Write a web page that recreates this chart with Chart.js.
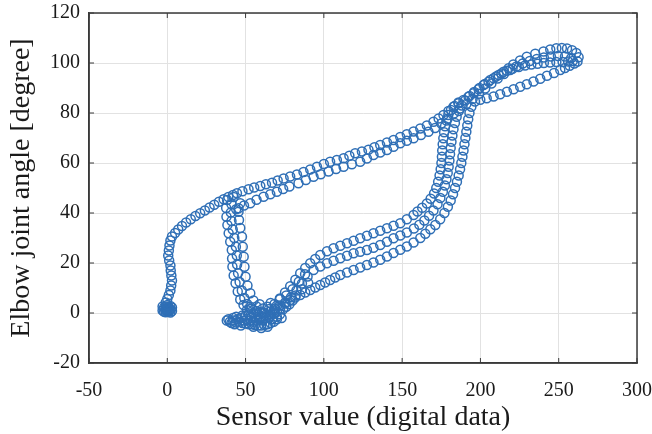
<!DOCTYPE html>
<html>
<head>
<meta charset="utf-8">
<title>Elbow joint angle vs sensor value</title>
<script src="https://cdn.jsdelivr.net/npm/chart.js@4.4.0/dist/chart.umd.min.js"></script>
<style>
  html, body { margin: 0; padding: 0; background: #ffffff; }
  #wrap { width: 652px; height: 434px; }
</style>
</head>
<body>
<div id="wrap"><canvas id="angle-chart" width="652" height="434"></canvas></div>
<script>
// Axis ticks
const xTicks = [-50, 0, 50, 100, 150, 200, 250, 300];
const yTicks = [-20, 0, 20, 40, 60, 80, 100, 120];

const startBlob = [[-3,1],[-2,0.5],[-1,1.2],[0,0.6],[1,1],[2,1.4],[3,0.8],[-2,2.2],[-1,2.6],[0,2],[1,2.4],[2,2.8],[0,1.3],[-1,1.8],[1,0.6],[2,0.2],[-3,2.6],[3,2.2],[-1,0.3],[0,3.2]];

const startRise = [[-1,4.2],[0,5.6],[1,7.2],[2,9],[2.5,11],[3,13],[2.6,15],[2.2,17],[2,19],[1.2,21],[0.6,23],[1,25],[1.4,27],[2,29],[3,30.6],[5,32],[7,33.4],[9.4,34.8],[12,36.2],[15,37.5],[18,38.8],[21,39.9],[24,41],[27,42.2],[30,43.3],[33,44.5],[36,45.5]];

const upperA = [[39,46.4],[42,47.2],[44.5,47.9],[48,48.7],[51.9,49.5],[55.5,50.2],[59.4,50.8],[63,51.5],[66.9,52.1],[70.5,53],[74.3,53.8],[78.5,54.6],[82.8,55.4],[87,56.4],[91.3,57.4],[95.6,58.5],[100,59.6],[104,60.5],[108.3,61.2],[112.6,61.9],[116.3,62.9],[120,63.9],[124.3,64.6],[128.5,65.3],[132.3,66.3],[136,67.2],[140.3,68.2],[144.5,69.2],[148.8,70.4],[153,71.5],[157.3,72.6],[161.6,73.8],[165.8,75],[170,76.5],[173.3,77.8],[176.4,79.2],[179.6,80.8],[182.8,82.5],[186,83.9],[189.2,85.2],[192.4,86.5],[195.6,87.9],[198.8,89.5],[202,91.2],[205.2,92.5],[208.4,93.9],[211.6,95.2],[214.8,96.5],[218,97.9],[221,99.4],[225.3,101],[229.6,102.5],[235,103.7],[240.3,104.6],[244.6,105.4],[248.5,105.9],[252,106],[255.3,105.8],[258.5,105.1],[261.2,104],[262.7,102.3],[262,100.6]];

const topInner = [[260,99.8],[257,98.9],[254,98],[251,97.2],[247,96],[242.5,94.9],[238.2,93.7],[233.9,92.6],[229.6,91.5],[225.4,90.5],[221.2,89.5],[216.9,88.5],[212.6,87.5],[208.4,86.6],[204,85.9],[199.9,85.3],[196.5,84.6]];

const sRight = [[194.2,82.5],[193,80],[192.2,77.5],[191.6,75],[191,72.5],[190.4,70],[189.8,67.5],[189.2,65],[188.5,62.5],[187.8,60],[187,57.5],[186.1,55],[185,52.5],[183.8,50],[182.5,47.5],[181,45],[179.2,42.5],[177,40],[174.3,37.5],[171.2,35.2],[168,33.5],[164.8,31.7],[161.6,30],[157.3,28.2],[153,26.6],[148.8,25.3],[144.5,24],[140.3,22.6],[136,21.3],[131.7,20.2],[127.5,19.2],[123.2,18.2],[119,17.2],[114.8,16.2],[110.5,15.2],[107.2,14.2],[104,13.2],[100.8,12.2],[97.7,11.2],[94.5,10.2],[91.3,9.2],[88.1,8.2],[84.9,7.2],[81.7,6.2],[78.5,5.2],[75.3,4.2],[72,3],[68.8,1.8],[65.6,0.5],[62.5,-0.8],[59.5,-2]];

const bottomBlob = [[38,-3],[40,-3.5],[42,-3],[44,-3.8],[46,-3.5],[48,-4],[50,-4.2],[52,-4.5],[54,-4.5],[56,-4.8],[58,-5],[60,-5],[62,-4.8],[64,-4.5],[66,-4],[68,-3.5],[70,-2.5],[39,-2.5],[41,-4],[43,-4.5],[45,-2.5],[47,-2],[49,-3],[51,-2.5],[53,-3],[55,-3.5],[57,-3],[59,-2.5],[61,-3],[63,-2],[65,-1.5],[50,-1],[52,-0.5],[54,-1.5],[56,-2],[58,-0.5],[60,-1.5],[62,0],[47,-5],[55,-5.5],[60,-6],[64,-5.5]];

const junctionBlob = [[66,-0.5],[68,1],[70,0.5],[72,-0.5],[74,1.5],[76,2.5],[70,-1.5],[67,-2.5],[73,-2],[57,0.8],[61,1.8],[64,2.5],[59,3.5],[48,-1],[44,-1.5],[42,-2],[53,2.5],[66,4],[70,3],[78,3.5],[80,5],[82,7],[86,9.5],[90,12],[72,5.5],[76,7],[80,9.5],[84,12.5],[88,15.5]];

const leftL1 = [[50.9,1.2],[48.7,3.2],[46.6,5.4],[45,8.6],[43.6,11.9],[42.4,15],[41.6,18.5],[41.4,21.8],[41.2,25.2],[40.2,28.5],[39.2,31.9],[38.4,35.2],[37.8,38.5],[37.6,42],[38.2,45.2]];

const upperB = [[44,41.5],[45.5,41.9],[49,43],[53,43.9],[57,45.3],[61.5,46.5],[65.8,47.5],[70,48.5],[74,49.6],[78,50.6],[83.8,51.9],[88.5,53.2],[93.4,54.5],[98,55.5],[103,56.6],[107.8,57.6],[112.6,58.5],[117.9,59.5],[123.2,60.5],[127.5,61.8],[131.7,63.2],[136,64.2],[140.3,65.2],[144.5,66.5],[148.8,67.9],[153,68.9],[157.3,69.9],[162,71.2],[166.8,72.5],[171,74],[175,75.8],[179,77.7],[183,79.8],[187,81.8],[191,83.6],[195,85.6],[199,87.7],[203,89.8],[207,91.8],[211,93.8],[215,95.6],[219,97.2],[223,98.6],[227,99.8],[231.5,100.8],[236,101.6],[240.5,102.2],[245,102.6],[249.5,102.8],[254,102.6],[258,102]];

const topMiddle = [[259,100.8],[256,100.6],[252.5,100.4],[248.5,100.4],[244.5,100.2],[240.5,100],[236.5,99.7],[232.5,99.4],[228.5,99],[224.5,98.4],[220.5,97.7],[216.9,96.9],[213.4,95.8],[210,94.6],[206.3,93.2],[202.8,91.6],[199.4,90],[196,88.4],[193,86.8],[190.3,85]];

const sMid = [[188,83],[186.2,80.8],[184.8,78.5],[183.7,76],[182.8,73.5],[182.1,71],[181.5,68.5],[181,66],[180.6,63.5],[180.2,61],[179.7,58.5],[179.1,56],[178.3,53.5],[177.3,51],[176,48.5],[174.4,46],[172.6,43.5],[170,41],[167.2,38.9],[164.2,37],[161,35.3],[157.5,33.8],[153,32.2],[148.8,31],[144.5,29.9],[140.3,28.5],[136,27.2],[131.7,26.1],[127.5,25.2],[123.2,24.5],[119,23.9],[114.8,22.9],[110.5,21.9],[106.2,20.9],[102,19.9],[97.7,18.6],[93.4,17.2],[89.6,14.6],[86,11.8],[82.5,9],[79,6.3],[75.5,3.8],[72,1.6],[68.5,-0.3],[65,-2]];

const leftL2 = [[55,0],[53,1.6],[51,3.6],[49.2,6],[47.6,9],[46.2,12.4],[45.2,15.9],[44.6,19.4],[44.4,23],[43.8,26.5],[42.8,30],[41.8,33.4],[41,36.8],[40.6,40.2],[41,43.5],[42.4,46.4]];

const sLeft = [[186,84.2],[183.5,82.8],[181.2,81.2],[179.5,79.2],[178.3,77],[177.4,74.7],[176.8,72.3],[176.3,69.9],[175.9,67.5],[175.6,65],[175.4,62.5],[175.1,60],[174.6,57.5],[173.9,55],[173,52.5],[171.8,50],[170.4,47.8],[168.2,45.7],[165.8,43.8],[162.8,42.1],[159.8,40.6],[157.3,39.2],[153,37.5],[148.8,35.9],[144.5,34.9],[140.3,33.9],[136,32.9],[131.7,31.9],[127.5,30.9],[123.2,29.9],[119,28.9],[114.8,27.9],[110.5,26.9],[106.2,25.9],[102,24.7],[97.7,23.2],[94.5,21.6],[91.3,19.9],[88.1,18],[84.9,15.9],[81.8,13.3],[78.5,10.7],[75.2,8.2],[71.9,5.8],[68.5,3.6],[65,1.6],[61.5,0],[58,-1.5]];

const leftL3 = [[59,0.4],[57,2.6],[55,5],[53,7.9],[51.2,11],[50,14.5],[49.3,18.5],[48.8,22.5],[48.2,26.5],[47.7,30.5],[46.6,34],[45.8,37.2],[45.5,40.5],[46.6,43.9]];

const segments = [startBlob, startRise, upperA, topInner, sRight, bottomBlob, junctionBlob,
  leftL1, upperB, topMiddle, sMid, leftL2, sLeft, leftL3];

const points = [].concat(...segments).map((p) => ({ x: p[0], y: p[1] }));

const serif = "'Liberation Serif', 'Times New Roman', serif";
const markerColor = "#2f6fb6";

// Full box with inward tick marks, like the original plot
const boxFrame = {
  id: "boxFrame",
  afterDraw(chart) {
    const { ctx, chartArea: a, scales } = chart;
    ctx.save();
    ctx.strokeStyle = "#3a3a3a";
    ctx.lineWidth = 1.5;
    ctx.strokeRect(a.left, a.top, a.right - a.left, a.bottom - a.top);
    ctx.lineWidth = 1;
    ctx.beginPath();
    xTicks.forEach((v) => {
      const px = scales.x.getPixelForValue(v);
      ctx.moveTo(px, a.bottom);
      ctx.lineTo(px, a.bottom - 5);
      ctx.moveTo(px, a.top);
      ctx.lineTo(px, a.top + 5);
    });
    yTicks.forEach((v) => {
      const py = scales.y.getPixelForValue(v);
      ctx.moveTo(a.left, py);
      ctx.lineTo(a.left + 5, py);
      ctx.moveTo(a.right, py);
      ctx.lineTo(a.right - 5, py);
    });
    ctx.stroke();
    ctx.restore();
  },
};

new Chart(document.getElementById("angle-chart"), {
  type: "scatter",
  data: {
    datasets: [
      {
        data: points,
        pointStyle: "circle",
        pointRadius: 4.5,
        pointBorderWidth: 1.5,
        pointBorderColor: markerColor,
        pointBackgroundColor: "rgba(0,0,0,0)",
      },
    ],
  },
  options: {
    responsive: false,
    animation: false,
    layout: {
      padding: { top: 13, right: 15, left: 0, bottom: 0 },
    },
    plugins: {
      legend: { display: false },
      tooltip: { enabled: false },
    },
    scales: {
      x: {
        type: "linear",
        min: -50,
        max: 300,
        afterBuildTicks: (scale) => {
          scale.ticks = xTicks.map((v) => ({ value: v }));
        },
        afterFit: (scale) => {
          scale.height = 71;
          scale.paddingLeft = 0;
          scale.paddingRight = 0;
        },
        ticks: {
          padding: 16,
          color: "#1a1a1a",
          font: { family: serif, size: 20 },
        },
        grid: { color: "#e2e2e2", lineWidth: 1, drawTicks: false },
        border: { color: "#3a3a3a", width: 1.5 },
        title: {
          display: true,
          text: "Sensor value (digital data)",
          color: "#1a1a1a",
          font: { family: serif, size: 28 },
          padding: { top: 0, bottom: 0 },
        },
      },
      y: {
        type: "linear",
        min: -20,
        max: 120,
        afterBuildTicks: (scale) => {
          scale.ticks = yTicks.map((v) => ({ value: v }));
        },
        afterFit: (scale) => {
          scale.width = 89;
          scale.paddingTop = 0;
          scale.paddingBottom = 0;
        },
        ticks: {
          padding: 9,
          color: "#1a1a1a",
          font: { family: serif, size: 20 },
        },
        grid: { color: "#e2e2e2", lineWidth: 1, drawTicks: false },
        border: { color: "#3a3a3a", width: 1.5 },
        title: {
          display: true,
          text: "Elbow joint angle [degree]",
          color: "#1a1a1a",
          font: { family: serif, size: 28 },
          padding: { top: 5, bottom: 0 },
        },
      },
    },
  },
  plugins: [boxFrame],
});
</script>
</body>
</html>
